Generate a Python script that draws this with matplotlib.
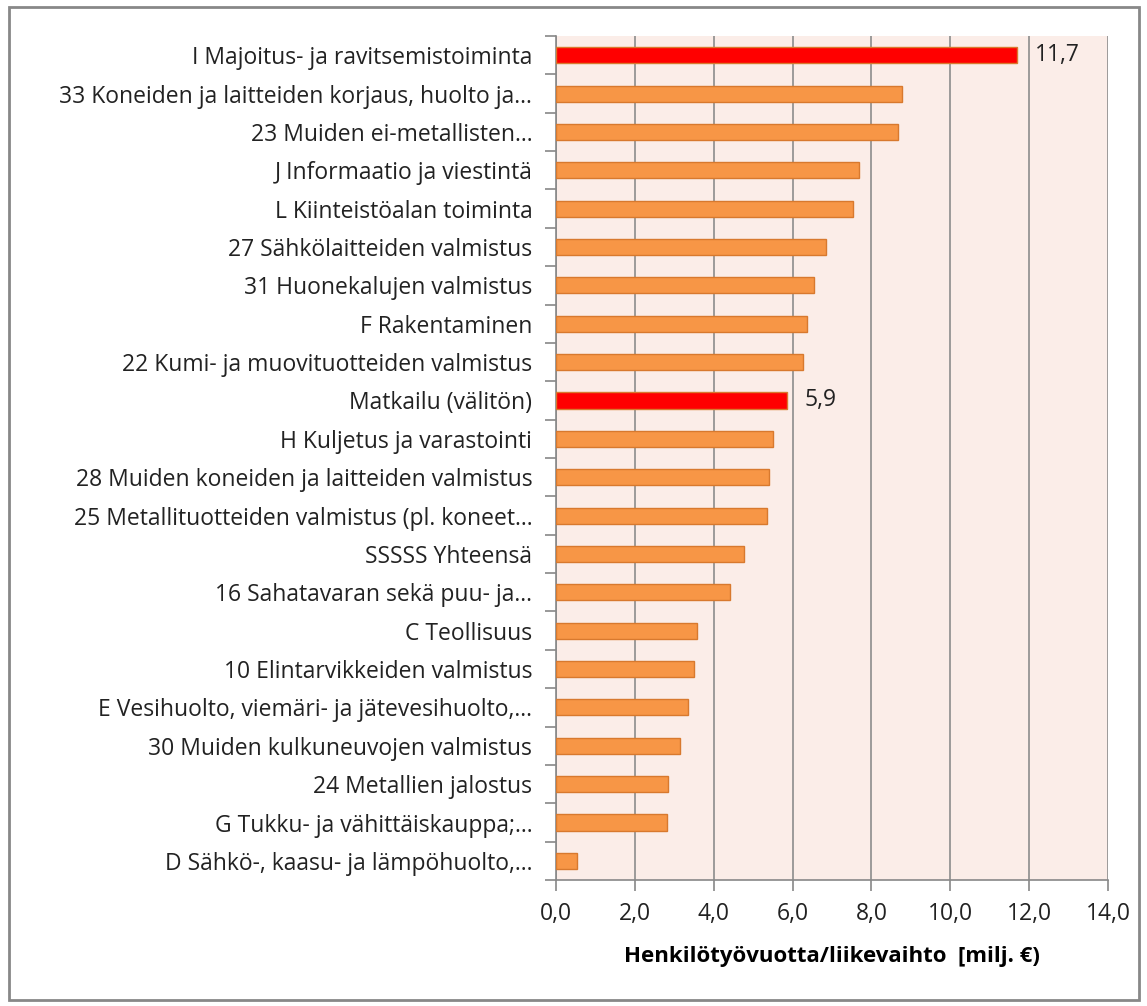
import matplotlib.pyplot as plt
import numpy as np

plt.rcParams['font.family'] = ['Open Sans', 'DejaVu Sans']

categories = [
    "I Majoitus- ja ravitsemistoiminta",
    "33 Koneiden ja laitteiden korjaus, huolto ja...",
    "23 Muiden ei-metallisten...",
    "J Informaatio ja viestintä",
    "L Kiinteistöalan toiminta",
    "27 Sähkölaitteiden valmistus",
    "31 Huonekalujen valmistus",
    "F Rakentaminen",
    "22 Kumi- ja muovituotteiden valmistus",
    "Matkailu (välitön)",
    "H Kuljetus ja varastointi",
    "28 Muiden koneiden ja laitteiden valmistus",
    "25 Metallituotteiden valmistus (pl. koneet...",
    "SSSSS Yhteensä",
    "16 Sahatavaran sekä puu- ja...",
    "C Teollisuus",
    "10 Elintarvikkeiden valmistus",
    "E Vesihuolto, viemäri- ja jätevesihuolto,...",
    "30 Muiden kulkuneuvojen valmistus",
    "24 Metallien jalostus",
    "G Tukku- ja vähittäiskauppa;...",
    "D Sähkö-, kaasu- ja lämpöhuolto,...",
]
values = [11.7, 8.78, 8.67, 7.68, 7.53, 6.85, 6.54, 6.37, 6.26, 5.86, 5.50,
          5.40, 5.35, 4.77, 4.41, 3.58, 3.50, 3.35, 3.14, 2.84, 2.82, 0.53]
highlight = ["I Majoitus- ja ravitsemistoiminta", "Matkailu (välitön)"]
xticks = [0, 2, 4, 6, 8, 10, 12, 14]

fig = plt.figure(figsize=(11.47, 10.06), dpi=100)
ax = fig.add_axes([0.4847, 0.1252, 0.4813, 0.839])
ax.set_facecolor('#FBEDE8')

y = np.arange(len(categories))
colors = ['#FF0000' if c in highlight else '#F79646' for c in categories]
ax.barh(y, values, height=0.42, color=colors, edgecolor='#D8792E', linewidth=1, zorder=3)

for yi, c, v in zip(y, categories, values):
    if c in highlight:
        ax.text(v + 0.45, yi, f"{v:.1f}".replace('.', ','), va='center', ha='left', fontsize=16.5, color='#222222')

ax.set_ylim(len(categories) - 0.5, -0.5)
ax.set_xlim(0, 14)
ax.set_xticks(xticks)
ax.set_xticklabels([f"{t:.1f}".replace('.', ',') for t in xticks], fontsize=16.5, color='#222222')
ax.set_yticks(y)
ax.set_yticklabels(categories, fontsize=16.5, color='#222222')
ax.set_yticks(np.arange(len(categories) + 1) - 0.5, minor=True)
ax.tick_params(axis='y', which='major', length=0, pad=17)
ax.tick_params(axis='y', which='minor', length=8, color='#888888', width=1.2)
ax.tick_params(axis='x', length=8, color='#888888', width=1.2, pad=8)
ax.grid(axis='x', color='#8C8C8C', linewidth=1.2, zorder=0)
for s in ['top', 'right']:
    ax.spines[s].set_visible(False)
ax.spines['left'].set_color('#888888')
ax.spines['bottom'].set_color('#888888')
ax.spines['left'].set_linewidth(1.2)
ax.spines['bottom'].set_linewidth(1.2)
ax.set_xlabel("Henkilötyövuotta/liikevaihto  [milj. €)", fontsize=16, fontweight='bold', labelpad=14)

fig.patches.append(plt.Rectangle((0.008, 0.006), 0.985, 0.987, transform=fig.transFigure,
                                 fill=False, edgecolor='#888888', linewidth=2))

plt.savefig('out.png')
plt.close()
